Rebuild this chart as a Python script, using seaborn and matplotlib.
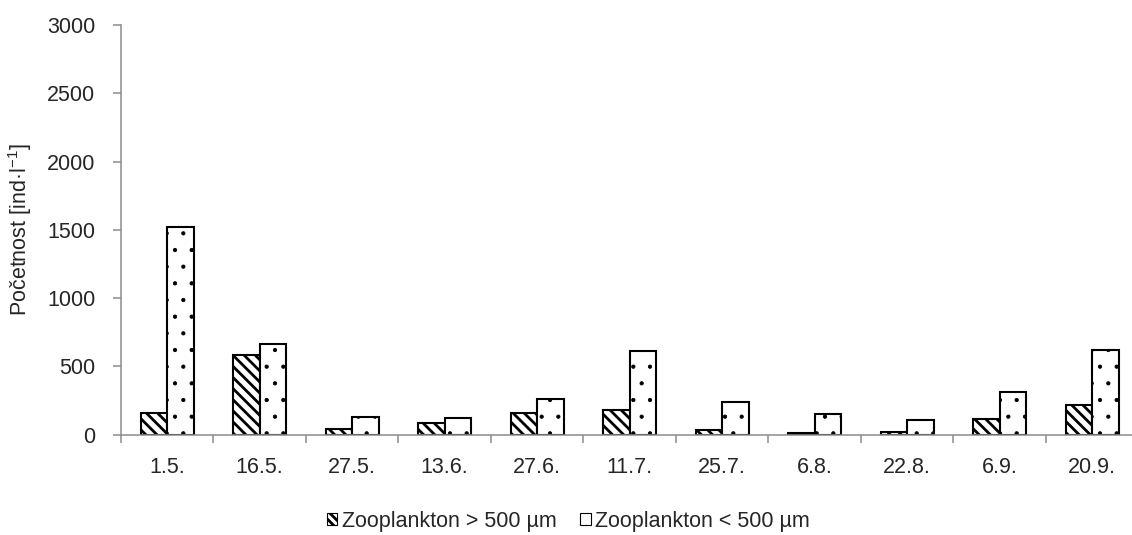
import matplotlib
matplotlib.use("Agg")
import matplotlib.pyplot as plt
from matplotlib.patches import Patch
from matplotlib.ticker import FixedLocator
import seaborn as sns
import pandas as pd

# Sampling dates and zooplankton abundance (ind/l)
dates = ["1.5.", "16.5.", "27.5.", "13.6.", "27.6.", "11.7.", "25.7.", "6.8.", "22.8.", "6.9.", "20.9."]
large_zoo = [157, 583, 40, 88, 159, 183, 34, 10, 20, 113, 217]
small_zoo = [1520, 662, 132, 124, 259, 615, 239, 151, 108, 315, 620]
series_names = ["Zooplankton > 500 µm", "Zooplankton < 500 µm"]
y_ticks = [0, 500, 1000, 1500, 2000, 2500, 3000]

df = pd.DataFrame({
    "date": dates * 2,
    "value": large_zoo + small_zoo,
    "series": [series_names[0]] * len(dates) + [series_names[1]] * len(dates),
})

sns.set_style("white")
plt.rcParams["font.family"] = ["Liberation Sans", "DejaVu Sans"]
plt.rcParams["mathtext.fontset"] = "custom"
plt.rcParams["mathtext.rm"] = "Liberation Sans"
plt.rcParams["mathtext.default"] = "regular"
plt.rcParams["hatch.color"] = "black"
plt.rcParams["hatch.linewidth"] = 2.0

FS = 15.5
GREY = "#8c8c8c"

fig = plt.figure(figsize=(11.32, 5.35), dpi=100)
ax = fig.add_axes([121 / 1132, 100.3 / 535, 1 - 121 / 1132, (434.7 - 25) / 535])

sns.barplot(data=df, x="date", y="value", hue="series", order=dates,
            hue_order=series_names, palette=["white", "white"],
            edgecolor="black", linewidth=1.5, width=0.573, gap=0,
            legend=False, ax=ax, saturation=1)

# diagonal stripes for the large fraction, sparse dots for the small one
hatches = ["\\\\\\", "."]
hatch_widths = [2.0, 0.6]
for cont, h, hw in zip(ax.containers, hatches, hatch_widths):
    for bar in cont:
        bar.set_hatch(h)
        if hasattr(bar, "set_hatch_linewidth"):
            bar.set_hatch_linewidth(hw)

ax.set_ylim(0, 3000)
ax.set_xlim(-0.5, 10.43)
ax.set_yticks(y_ticks)
ax.set_xlabel("")
ax.set_ylabel("Početnost [ind·l$^{-1}$]", fontsize=FS, labelpad=9)

for side in ["top", "right"]:
    ax.spines[side].set_visible(False)
for side in ["left", "bottom"]:
    ax.spines[side].set_color(GREY)
    ax.spines[side].set_linewidth(1.1)

ax.xaxis.set_minor_locator(FixedLocator([i + 0.5 for i in range(-1, len(dates))]))
ax.tick_params(axis="x", which="major", length=0, pad=16, labelsize=FS)
ax.tick_params(axis="x", which="minor", length=5.5, width=1.1, color=GREY, direction="out", bottom=True)
ax.tick_params(axis="y", which="major", length=5.5, width=1.1, color=GREY, direction="out",
               left=True, pad=13, labelsize=FS)

leg_stripe = Patch(facecolor="white", edgecolor="black", hatch="\\\\\\\\", linewidth=0.8,
                   label=series_names[0])
leg_plain = Patch(facecolor="white", edgecolor="black", linewidth=0.8, label=series_names[1])
if hasattr(leg_stripe, "set_hatch_linewidth"):
    leg_stripe.set_hatch_linewidth(1.2)
fig.legend(handles=[leg_stripe, leg_plain], loc="lower center", bbox_to_anchor=(0.502, -0.03),
           ncol=2, frameon=False, fontsize=FS, handlelength=0.5, handleheight=0.5,
           handletextpad=0.2, columnspacing=1.1)

fig.savefig("out.png", dpi=100)
